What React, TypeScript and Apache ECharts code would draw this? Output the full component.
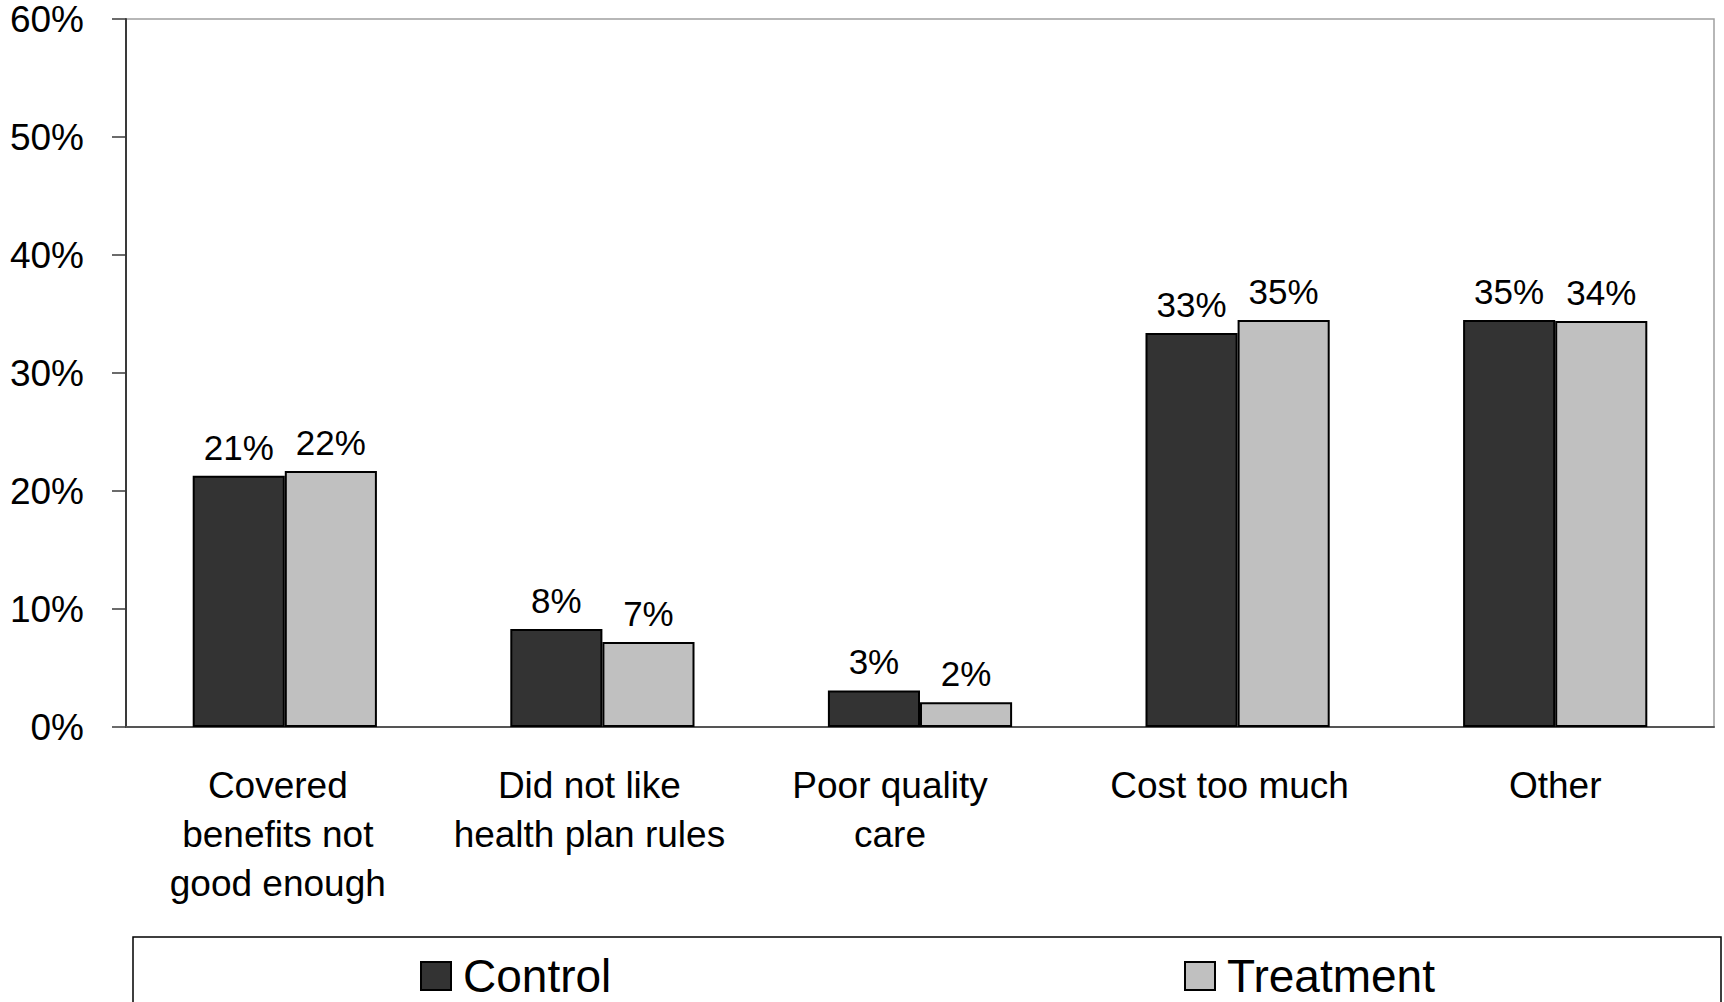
import React, { useEffect, useRef } from "react";
import * as echarts from "echarts";

// Reasons for leaving the plan, share of respondents by study arm
const categories = [
  "Covered\nbenefits not\ngood enough",
  "Did not like\nhealth plan rules",
  "Poor quality\ncare",
  "Cost too much",
  "Other",
];
// Horizontal nudge (px) of each category caption from its band centre
const labelShift = [-7, -13, -30, -8, 0];
const controlValues = [21.3, 8.3, 3.1, 33.4, 34.5];
const treatmentValues = [21.7, 7.2, 2.1, 34.5, 34.4];
const yTicks = [0, 10, 20, 30, 40, 50, 60];

const FONT = "'Liberation Sans', Arial, Helvetica, sans-serif";
const CONTROL_COLOR = "#333333";
const TREATMENT_COLOR = "#c0c0c0";

export default function App() {
  const ref = useRef<HTMLDivElement>(null);

  useEffect(() => {
    document.body.style.margin = "0";
    document.body.style.overflow = "hidden";
    if (!ref.current) return;
    const chart = echarts.init(ref.current, undefined, { renderer: "svg" });

    const barLabel = {
      show: true,
      position: "top",
      distance: 11,
      color: "#000",
      fontFamily: FONT,
      fontSize: 35,
      formatter: (p: any) => `${Math.round(p.value)}%`,
    };

    const legendText = {
      fontFamily: FONT,
      fontSize: 46,
      color: "#000",
      padding: [0, 0, 0, 7],
    };

    chart.setOption({
      animation: false,
      backgroundColor: "#fff",
      grid: {
        left: 126,
        right: 10,
        top: 19,
        bottom: 275,
        show: true,
        borderColor: "#a0a0a0",
        borderWidth: 1.5,
        backgroundColor: "transparent",
      },
      legend: [
        {
          data: ["Control"],
          left: 415,
          top: 948,
          itemWidth: 30,
          itemHeight: 28,
          icon: "rect",
          textStyle: legendText,
        },
        {
          data: ["Treatment"],
          left: 1179,
          top: 948,
          itemWidth: 30,
          itemHeight: 28,
          icon: "rect",
          textStyle: legendText,
        },
      ],
      xAxis: {
        type: "category",
        data: categories.map((c, i) => {
          const s = labelShift[i];
          return {
            value: c,
            textStyle: {
              padding: s < 0 ? [0, -2 * s, 0, 0] : [0, 0, 0, 2 * s],
            },
          };
        }),
        axisLine: { show: true, lineStyle: { color: "#555", width: 2 } },
        axisTick: { show: false },
        axisLabel: {
          interval: 0,
          margin: 34,
          color: "#000",
          fontFamily: FONT,
          fontSize: 37,
          lineHeight: 49,
          align: "center",
        },
      },
      yAxis: {
        type: "value",
        min: yTicks[0],
        max: yTicks[yTicks.length - 1],
        interval: 10,
        splitLine: { show: false },
        axisLine: { show: true, lineStyle: { color: "#3a3a3a", width: 2 } },
        axisTick: {
          show: true,
          inside: false,
          length: 14,
          lineStyle: { color: "#3a3a3a", width: 1.5 },
        },
        axisLabel: {
          margin: 42,
          color: "#000",
          fontFamily: FONT,
          fontSize: 37,
          formatter: "{value}%",
        },
      },
      series: [
        {
          name: "Control",
          type: "bar",
          data: controlValues,
          barGap: "0%",
          barCategoryGap: "42%",
          itemStyle: { color: CONTROL_COLOR, borderColor: "#000", borderWidth: 2 },
          label: barLabel,
        },
        {
          name: "Treatment",
          type: "bar",
          data: treatmentValues,
          barGap: "0%",
          barCategoryGap: "42%",
          itemStyle: { color: TREATMENT_COLOR, borderColor: "#000", borderWidth: 2 },
          label: barLabel,
        },
      ],
      graphic: [
        {
          type: "rect",
          shape: { x: 133, y: 937, width: 1588, height: 100 },
          style: { fill: "none", stroke: "#000", lineWidth: 1.5 },
          silent: true,
          z: 0,
        },
      ],
    });

    return () => chart.dispose();
  }, []);

  return <div ref={ref} style={{ width: 1724, height: 1002 }} />;
}
